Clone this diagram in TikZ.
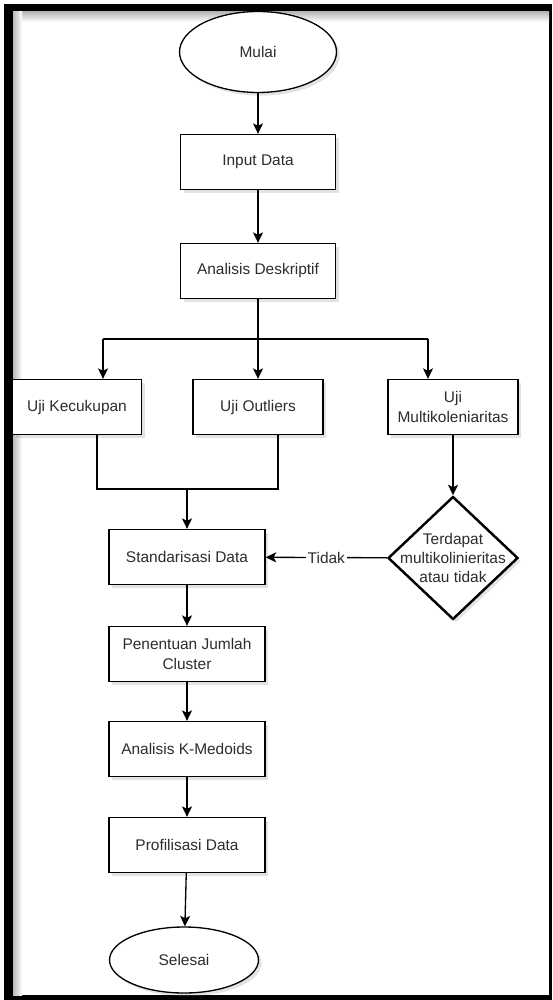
\documentclass[tikz,border=0pt]{standalone}
\usepackage{fontspec}
\setmainfont{Liberation Sans}
\usepackage{tikz}
\usetikzlibrary{arrows.meta,positioning,calc,shapes.geometric,shadows}
\usepackage{xcolor}
\definecolor{txtgray}{RGB}{45,45,45}

\begin{document}
\begin{tikzpicture}[x=0.02cm,y=-0.02cm,
  every node/.style={font=\fontsize{8.8}{11}\selectfont,text=txtgray},
  shd/.style={drop shadow={shadow xshift=1.8pt,shadow yshift=-1.8pt,opacity=.22}},
  box/.style={draw,line width=0.75pt,fill=white,shd,align=center,
    minimum width=3.1cm,minimum height=1.1cm,inner sep=1pt},
  term/.style={draw,ellipse,line width=0.75pt,fill=white,shd,inner sep=0pt},
  dec/.style={draw,diamond,line width=1.4pt,fill=white,shd,inner sep=0pt,
    minimum width=2.6cm,minimum height=2.46cm},
  arr/.style={line width=0.75pt,-{Stealth[length=2.1mm,width=2mm,inset=0.5mm]}},
  ln/.style={line width=0.75pt},
  lbl/.style={fill=white,inner sep=1pt}]
\useasboundingbox (0,0) rectangle (552,1000);
\fill (4,4) rectangle (552,1000);
\fill[white] (13,12) rectangle (549,995);
\shade[top color=gray!55,bottom color=white] (13,12) rectangle (549,22);
\shade[left color=gray!55,right color=white] (13,12) rectangle (22,995);

\node[term,minimum width=3.14cm,minimum height=1.62cm] (mulai) at (258,52) {Mulai};
\node[box] (input) at (258,162) {Input Data};
\node[box] (ad) at (258,271) {Analisis Deskriptif};
\node[box,minimum width=2.58cm] (uk) at (77,407) {Uji Kecukupan};
\node[box,minimum width=2.6cm] (uo) at (258,407) {Uji Outliers};
\node[box,minimum width=2.6cm] (um) at (453,407) {Uji\\Multikoleniaritas};
\node[dec,label={[align=center,font=\fontsize{8.8}{10.6}\selectfont]center:Terdapat\\multikolinieritas\\atau tidak}] (dc) at (453,558) {};
\node[box,minimum width=3.12cm] (sd) at (187,557) {Standarisasi Data};
\node[box,minimum width=3.12cm] (pj) at (187,654) {Penentuan Jumlah\\Cluster};
\node[box,minimum width=3.12cm] (ak) at (187,749) {Analisis K-Medoids};
\node[box,minimum width=3.12cm] (pf) at (187,845) {Profilisasi Data};
\node[term,minimum width=2.98cm,minimum height=1.32cm] (selesai) at (184,960) {Selesai};

\coordinate (bl) at (103,339);
\coordinate (br) at (428,339);
\coordinate (mg) at (187,489);

\draw[arr] (mulai) -- (input);
\draw[arr] (input) -- (ad);
\draw[arr] (ad) -- (uo);
\draw[ln] (bl) -- (br);
\draw[arr] (bl) -- (bl |- uk.north);
\draw[arr] (br) -- (br |- um.north);
\draw[ln] ([xshift=0.4cm]uk.south) |- ([xshift=0.4cm]uo.south |- mg) -- ([xshift=0.4cm]uo.south);
\draw[arr] (mg) -- (sd);
\draw[arr] (um) -- (dc);
\draw[arr] (dc) -- node[lbl] (tidak) {Tidak} (sd);
\draw[arr] (sd) -- (pj);
\draw[arr] (pj) -- (ak);
\draw[arr] (ak) -- (pf);
\draw[arr] (pf) -- (selesai);
\end{tikzpicture}
\end{document}
